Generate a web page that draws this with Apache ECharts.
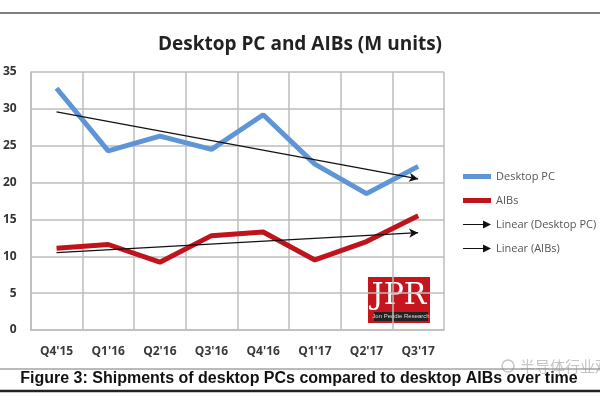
<!DOCTYPE html>
<html><head><meta charset="utf-8">
<script src="https://cdn.jsdelivr.net/npm/echarts@6/dist/echarts.min.js"></script>
<style>html,body{margin:0;padding:0;background:#fff}#c{width:600px;height:400px}</style>
</head><body><div id="c"></div>
<script>
const categories = ["Q4'15","Q1'16","Q2'16","Q3'16","Q4'16","Q1'17","Q2'17","Q3'17"];
const desktopPC = [32.8, 24.3, 26.3, 24.5, 29.2, 22.5, 18.5, 22.2];
const aibs = [11.1, 11.6, 9.2, 12.8, 13.3, 9.5, 12.0, 15.5];
const trendPC = [29.6, 20.5];   // start (Q4'15) and end (Q3'17)
const trendAIB = [10.5, 13.2];
const yTicks = [0, 35, 5];      // min, max, interval

const chart = echarts.init(document.getElementById('c'), null, {renderer: 'canvas'});
const font = '"Open Sans", "Noto Sans", sans-serif';
const arrowIcon = 'path://M0,4.4 L20,4.4 L20,1 L28,5 L20,9 L20,5.6 L0,5.6 Z';
const barIcon = 'path://M0,0 L28,0 L28,5 L0,5 Z';
function trendMark(vals) {
  return {
    silent: true, symbol: ['none', 'arrow'], symbolSize: [7, 9],
    label: {show: false},
    lineStyle: {color: '#111', width: 1.2, type: 'solid'},
    data: [[{coord: [categories[0], vals[0]]}, {coord: [categories[categories.length - 1], vals[1]]}]]
  };
}
chart.setOption({
  animation: false,
  backgroundColor: '#fff',
  title: {
    text: 'Desktop PC and AIBs (M units)', left: 295, textAlign: 'center', top: 30,
    textStyle: {fontFamily: font, fontSize: 19, fontWeight: 'bold', color: '#222'}
  },
  legend: {
    orient: 'vertical', left: 458, top: 166, itemWidth: 28, itemHeight: 8, itemGap: 13,
    textStyle: {fontFamily: font, fontSize: 11, color: '#555'},
    data: [
      {name: 'Desktop PC', icon: barIcon},
      {name: 'AIBs', icon: barIcon},
      {name: 'Linear (Desktop PC)', icon: arrowIcon, itemStyle: {color: '#111'}},
      {name: 'Linear (AIBs)', icon: arrowIcon, itemStyle: {color: '#111'}}
    ]
  },
  grid: {left: 28, right: 156, top: 72, bottom: 70},
  xAxis: {
    type: 'category', data: categories, boundaryGap: true,
    axisLine: {lineStyle: {color: '#bdbdbd', width: 1.5}},
    axisTick: {show: false},
    splitLine: {show: true, lineStyle: {color: '#bdbdbd', width: 1.5}},
    axisLabel: {fontFamily: font, fontSize: 12, fontWeight: 'bold', color: '#3a3a3a', margin: 16}
  },
  yAxis: {
    type: 'value', min: yTicks[0], max: yTicks[1], interval: yTicks[2],
    axisLine: {show: true, lineStyle: {color: '#bdbdbd', width: 1.5}},
    axisTick: {show: false},
    splitLine: {lineStyle: {color: '#bdbdbd', width: 1.5}},
    axisLabel: {fontFamily: font, fontSize: 12, fontWeight: 'bold', color: '#333', margin: 14}
  },
  series: [
    {name: 'Desktop PC', type: 'line', data: desktopPC, symbol: 'none',
     lineStyle: {color: '#5e95d6', width: 5}, itemStyle: {color: '#5e95d6'}},
    {name: 'AIBs', type: 'line', data: aibs, symbol: 'none',
     lineStyle: {color: '#c0141c', width: 5}, itemStyle: {color: '#c0141c'}},
    {name: 'Linear (Desktop PC)', type: 'line', data: [], symbol: 'none',
     itemStyle: {color: '#111'}, lineStyle: {color: '#111'}, markLine: trendMark(trendPC)},
    {name: 'Linear (AIBs)', type: 'line', data: [], symbol: 'none',
     itemStyle: {color: '#111'}, lineStyle: {color: '#111'}, markLine: trendMark(trendAIB)}
  ],
  graphic: [
    {type: 'line', shape: {x1: 0, y1: 13, x2: 600, y2: 13}, style: {stroke: '#555', lineWidth: 1.5}},
    {type: 'rect', shape: {x: 368, y: 277, width: 62, height: 46}, style: {fill: '#c4161c'}},
    {type: 'text', x: 399, y: 296, style: {text: 'JPR', fill: '#fff', font: '30px "DejaVu Serif", "Liberation Serif", serif', align: 'center', verticalAlign: 'middle'}},
    {type: 'rect', shape: {x: 374, y: 312, width: 54, height: 9}, style: {fill: '#222'}},
    {type: 'text', x: 401, y: 316.5, style: {text: 'Jon Peddie Research', fill: '#ddd', font: '6px "Liberation Sans", sans-serif', align: 'center', verticalAlign: 'middle'}},
    {type: 'line', shape: {x1: 0, y1: 369, x2: 600, y2: 369}, style: {stroke: '#777', lineWidth: 1}},
    {type: 'text', x: 299, y: 379, style: {text: 'Figure 3: Shipments of desktop PCs compared to desktop AIBs over time', fill: '#111', font: 'bold 16px "Liberation Sans", Arial, sans-serif', align: 'center', verticalAlign: 'middle'}},
    {type: 'line', shape: {x1: 0, y1: 391, x2: 600, y2: 391}, style: {stroke: '#222', lineWidth: 2.5}},
    {type: 'text', x: 520, y: 366, style: {text: '半导体行业观察', fill: 'rgba(150,150,150,0.55)', font: '15px "Noto Sans CJK SC", sans-serif', align: 'left', verticalAlign: 'middle'}},
    {type: 'circle', shape: {cx: 508, cy: 366, r: 6}, style: {fill: 'none', stroke: 'rgba(150,150,150,0.55)', lineWidth: 1.5}}
  ]
});
</script></body></html>
